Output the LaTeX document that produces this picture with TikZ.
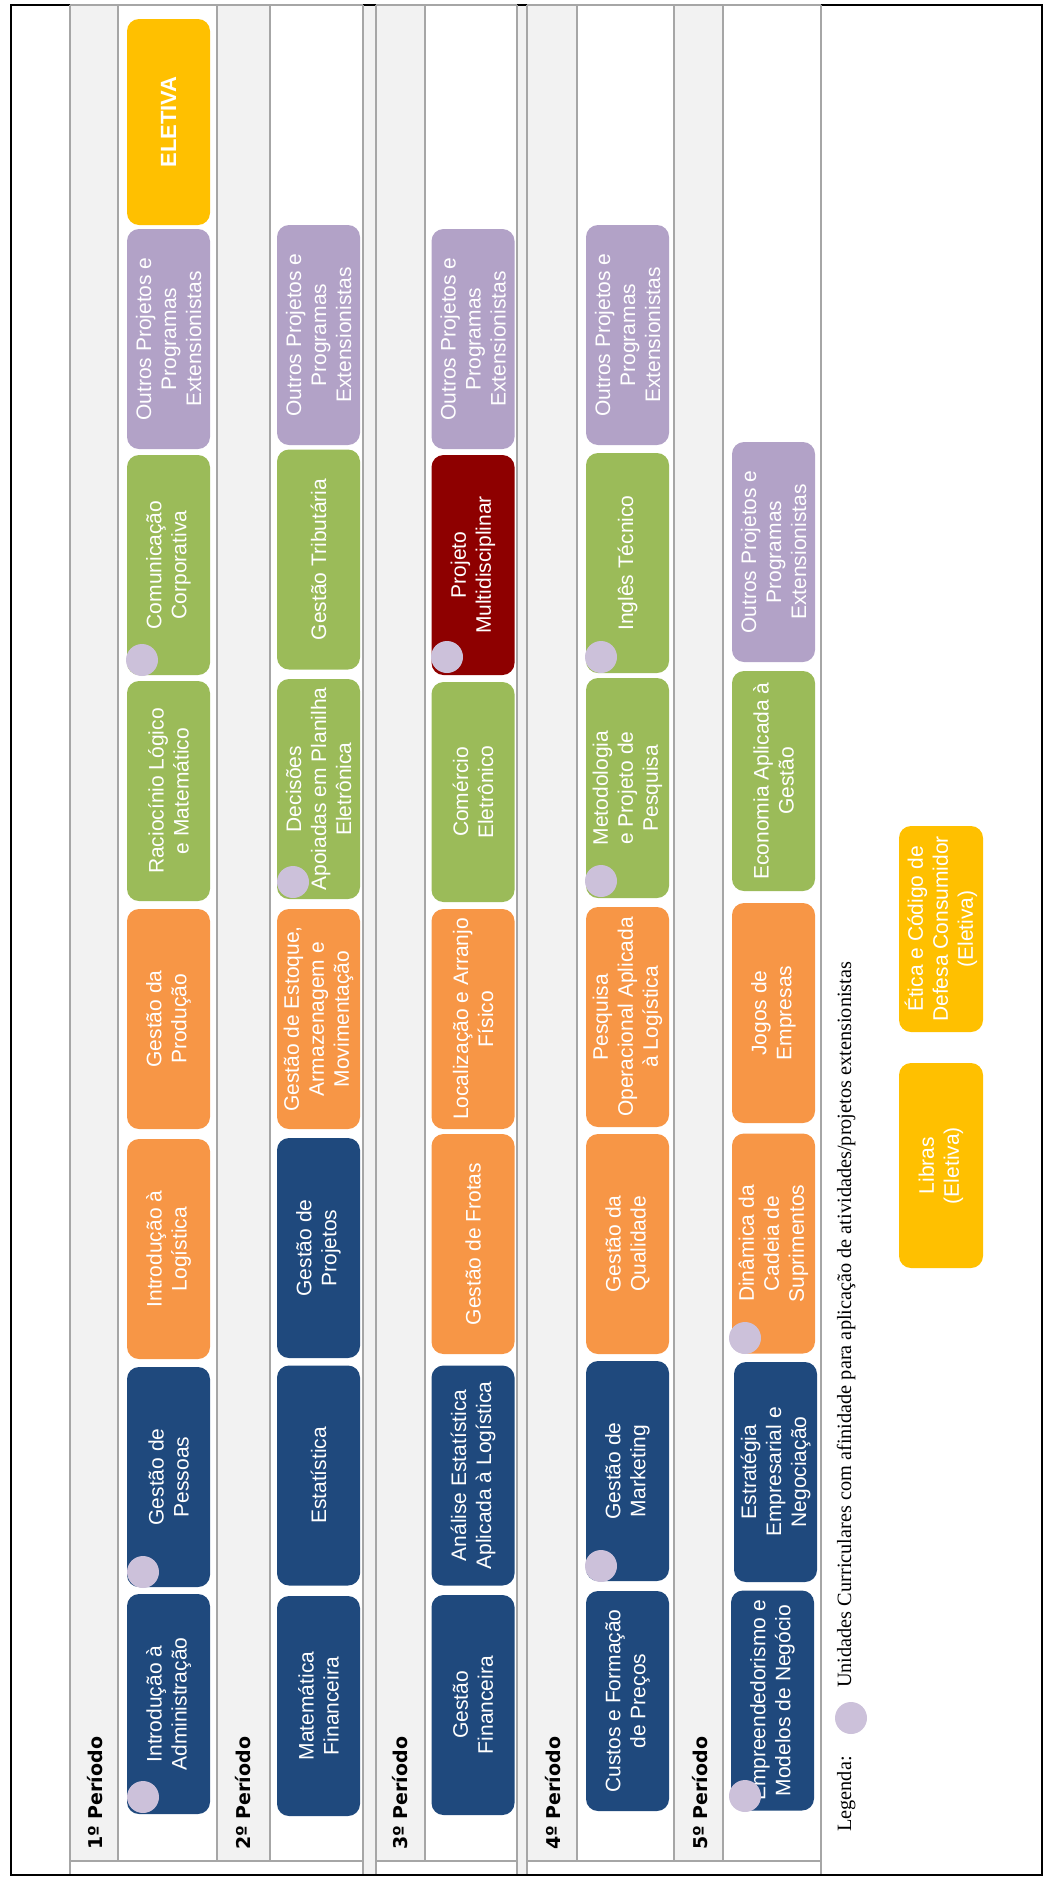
\documentclass[tikz,border=0pt]{standalone}
\usepackage{fontspec}
\setmainfont{Liberation Serif}
\newfontfamily\arialf{Liberation Sans}
\newfontfamily\hdrf{DejaVu Sans}
\definecolor{navy}{HTML}{1F497D}
\definecolor{orng}{HTML}{F79646}
\definecolor{grn}{HTML}{9BBB59}
\definecolor{purp}{HTML}{B2A2C7}
\definecolor{yell}{HTML}{FFC000}
\definecolor{dred}{HTML}{8E0000}
\definecolor{lav}{HTML}{CCC1DA}
\definecolor{lgray}{HTML}{F2F2F2}
\definecolor{gridgray}{HTML}{A6A6A6}
\begin{document}
\begin{tikzpicture}[x=1pt,y=-1pt,
  cb/.style={rotate=90, minimum width=220pt, minimum height=83pt, rounded corners=12pt, inner sep=1pt, text=white, align=center, font=\arialf\fontsize{21}{25}\selectfont},
  dot/.style={circle, fill=lav, minimum size=32pt, inner sep=0pt},
  hdr/.style={rotate=90, anchor=base west, inner sep=0pt, font=\hdrf\bfseries\fontsize{19}{23}\selectfont},
  grid/.style={draw=gridgray, line width=2pt},
  leg/.style={rotate=90, anchor=base west, inner sep=0pt, font=\fontsize{20.3}{24}\selectfont}]
\useasboundingbox (0,0) rectangle (1044,1879);
% light gray strips
\fill[lgray] (70,6) rectangle (118,1861);
\fill[lgray] (217,6) rectangle (270,1861);
\fill[lgray] (376,6) rectangle (425,1861);
\fill[lgray] (527,6) rectangle (577,1861);
\fill[lgray] (674,6) rectangle (723,1861);
\fill[lgray] (363,6) rectangle (376,1874);
\fill[lgray] (517,6) rectangle (527,1874);
% frame
\draw[black, line width=2pt] (11,5) rectangle (1042,1875);
% table lines
\draw[grid] (70,5) -- (363,5) (376,5) -- (517,5) (527,5) -- (821,5);
\draw[grid] (70,1861) -- (363,1861) (376,1861) -- (517,1861) (527,1861) -- (821,1861);
\foreach \x in {70,363,376,517,527,821} \draw[grid] (\x,5) -- (\x,1874);
\foreach \x in {118,217,270,425,577,674,723} \draw[grid] (\x,5) -- (\x,1861);
% period headers
\node[hdr] (p1) at (102,1850) {1º Período};
\node[hdr] (p2) at (250,1850) {2º Período};
\node[hdr] (p3) at (407,1850) {3º Período};
\node[hdr] (p4) at (560,1850) {4º Período};
\node[hdr] (p5) at (707,1850) {5º Período};
% column 1
\node[cb, fill=yell, minimum width=206pt, font=\arialf\bfseries\fontsize{22}{26}\selectfont] (a0) at (168.5,122) {ELETIVA};
\node[cb, fill=purp] (a1) at (168.5,339) {Outros Projetos e\\Programas\\Extensionistas};
\node[cb, fill=grn] (a2) at (168.5,565) {Comunicação\\Corporativa};
\node[cb, fill=grn] (a3) at (168.5,791) {Raciocínio Lógico\\e Matemático};
\node[cb, fill=orng] (a4) at (168.5,1019) {Gestão da\\Produção};
\node[cb, fill=orng] (a5) at (168.5,1249) {Introdução à\\Logística};
\node[cb, fill=navy] (a6) at (168.5,1477) {Gestão de\\Pessoas};
\node[cb, fill=navy] (a7) at (168.5,1704) {Introdução à\\Administração};
% column 2
\node[cb, fill=purp] (b1) at (318.5,335) {Outros Projetos e\\Programas\\Extensionistas};
\node[cb, fill=grn] (b2) at (318.5,559.5) {Gestão Tributária};
\node[cb, fill=grn] (b3) at (318.5,789) {Decisões\\Apoiadas em Planilha\\Eletrônica};
\node[cb, fill=orng] (b4) at (318.5,1019) {Gestão de Estoque,\\Armazenagem e\\Movimentação};
\node[cb, fill=navy] (b5) at (318.5,1248) {Gestão de\\Projetos};
\node[cb, fill=navy] (b6) at (318.5,1475.5) {Estatística};
\node[cb, fill=navy] (b7) at (318.5,1706) {Matemática\\Financeira};
% column 3
\node[cb, fill=purp] (c1) at (473,339) {Outros Projetos e\\Programas\\Extensionistas};
\node[cb, fill=dred] (c2) at (473,565) {Projeto\\Multidisciplinar};
\node[cb, fill=grn] (c3) at (473,792) {Comércio\\Eletrônico};
\node[cb, fill=orng] (c4) at (473,1019) {Localização e Arranjo\\Físico};
\node[cb, fill=orng] (c5) at (473,1244) {Gestão de Frotas};
\node[cb, fill=navy] (c6) at (473,1475.5) {Análise Estatística\\Aplicada à Logística};
\node[cb, fill=navy] (c7) at (473,1705) {Gestão\\Financeira};
% column 4
\node[cb, fill=purp] (d1) at (627.5,335) {Outros Projetos e\\Programas\\Extensionistas};
\node[cb, fill=grn] (d2) at (627.5,563) {Inglês Técnico};
\node[cb, fill=grn] (d3) at (627.5,788) {Metodologia\\e Projeto de\\Pesquisa};
\node[cb, fill=orng] (d4) at (627.5,1017) {Pesquisa\\Operacional Aplicada\\à Logística};
\node[cb, fill=orng] (d5) at (627.5,1244) {Gestão da\\Qualidade};
\node[cb, fill=navy] (d6) at (627.5,1471) {Gestão de\\Marketing};
\node[cb, fill=navy] (d7) at (627.5,1701) {Custos e Formação\\de Preços};
% column 5
\node[cb, fill=purp] (e1) at (773.5,552) {Outros Projetos e\\Programas\\Extensionistas};
\node[cb, fill=grn] (e2) at (773.5,781) {Economia Aplicada à\\Gestão};
\node[cb, fill=orng] (e3) at (773.5,1013) {Jogos de\\Empresas};
\node[cb, fill=orng] (e4) at (773.5,1243.5) {Dinâmica da\\Cadeia de\\Suprimentos};
\node[cb, fill=navy] (e5) at (775.5,1472) {Estratégia\\Empresarial e\\Negociação};
\node[cb, fill=navy] (e6) at (772.5,1700.5) {Empreendedorismo e\\Modelos de Negócio};
% extension dots
\node[dot] (x1) at (142,660) {};
\node[dot] (x2) at (143,1572) {};
\node[dot] (x3) at (143,1797) {};
\node[dot] (x4) at (293,882) {};
\node[dot] (x5) at (447,657) {};
\node[dot] (x6) at (601,657) {};
\node[dot] (x7) at (601,881) {};
\node[dot] (x8) at (601,1566) {};
\node[dot] (x9) at (745,1338) {};
\node[dot] (x10) at (745,1796) {};
% elective boxes in legend area
\node[cb, fill=yell, minimum width=206pt, minimum height=84pt] (f1) at (941,929) {Ética e Código de\\Defesa Consumidor\\(Eletiva)};
\node[cb, fill=yell, minimum width=205pt, minimum height=84pt] (f2) at (941,1165.5) {Libras\\(Eletiva)};
% legend
\node[leg] (lg) at (851,1832) {Legenda:};
\node[dot] (ld) at (851,1718) {};
\node[leg] (lt) at (851,1688) {Unidades Curriculares com afinidade para aplicação de atividades/projetos extensionistas};
\end{tikzpicture}
\end{document}
